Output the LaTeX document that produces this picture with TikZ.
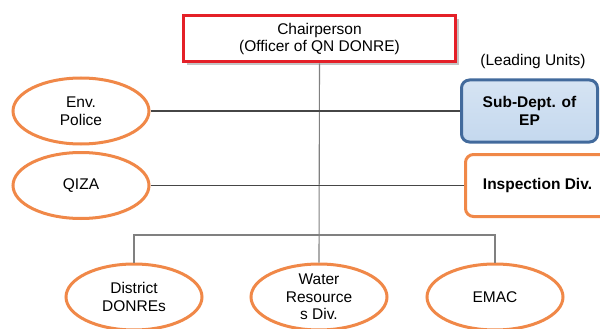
\documentclass[tikz,border=0pt]{standalone}
\usepackage{fontspec}
\setmainfont{Liberation Sans}
\usepackage{tikz}
\usetikzlibrary{shapes.geometric}
\usetikzlibrary{shadows}
\definecolor{naranja}{RGB}{240,136,72}
\definecolor{rojo}{RGB}{228,32,40}
\definecolor{azulborde}{RGB}{66,106,156}
\definecolor{azulfondo}{RGB}{196,216,238}
\definecolor{lineaosc}{RGB}{70,70,70}
\definecolor{lineagris}{RGB}{128,128,128}

\begin{document}
\begin{tikzpicture}[x=1pt, y=-1pt,
  font=\fontsize{15.5}{17.5}\selectfont,
  unidad/.style={ellipse, draw=naranja, line width=3pt, fill=white, minimum width=136pt, minimum height=66pt, inner sep=0pt, align=center},
  caja/.style={rectangle, rounded corners=8pt, line width=3pt, minimum height=62pt, align=center, font=\fontsize{15.5}{17.5}\selectfont\bfseries},
  enlace/.style={draw=lineaosc, line width=1.1pt},
  rama/.style={draw=lineagris, line width=1.1pt}]
  \clip (0,0) rectangle (600,329); % marco
  \coordinate (bus) at (319,235); % barra inferior
  \node [rectangle, draw=rojo, line width=3pt, fill=white, minimum width=272pt, minimum height=46pt, align=center, drop shadow={shadow xshift=3pt, shadow yshift=-3pt, fill=black!45}] (chair) at (319.5,39) {Chairperson\\(Officer of QN DONRE)}; % presidente
  \node [unidad] (police) at (81,111) {Env.\\Police};
  \node [unidad] (qiza) at (81,185.5) {QIZA};
  \node [caja, minimum width=136pt, draw=azulborde, top color=azulfondo!70, bottom color=azulfondo] (subdept) at (529.5,111) {Sub-Dept. of\\EP};
  \node [caja, minimum width=144pt, draw=naranja, fill=white] (inspect) at (537.5,185.5) {Inspection Div.};
  \node (leading) at (533,61.5) {(Leading Units)};
  \node [unidad, minimum height=66pt] (district) at (134,297) {District\\DONREs};
  \node [unidad, minimum height=66pt] (water) at (319,297) {Water\\Resource\\s Div.};
  \node [unidad, minimum height=66pt] (emac) at (495,297) {EMAC};
  % conectores
  \draw [rama] (chair.south) -- (water.north); % linea vertical
  \draw [rama] (district.north) |- (bus) -| (emac.north); % barra
  \draw [enlace] (police.east) -- (subdept.west); % policia - EP
  \draw [enlace] (qiza.east) -- (inspect.west); % QIZA - inspeccion
\end{tikzpicture}
\end{document}
